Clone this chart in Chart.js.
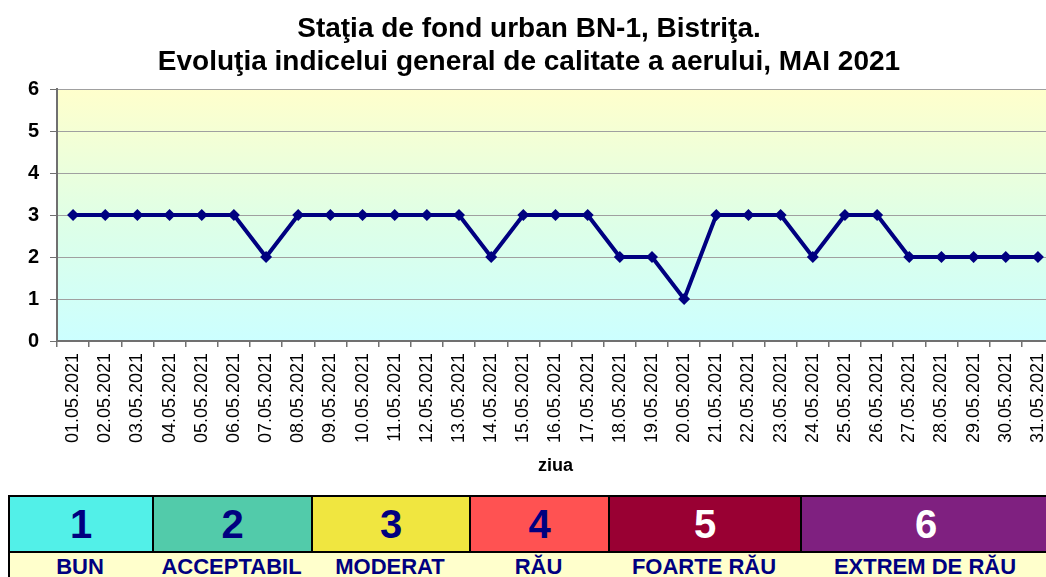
<!DOCTYPE html>
<html>
<head>
<meta charset="utf-8">
<script src="https://cdn.jsdelivr.net/npm/chart.js@4/dist/chart.umd.min.js"></script>
<style>
  html, body { margin: 0; padding: 0; background: #fff; overflow: hidden; width: 1046px; height: 577px; }
  #aqChart { position: absolute; left: 0; top: 0; }
  #legend { position: absolute; left: 0; top: 0; width: 1046px; height: 577px; pointer-events: none; }
  .cell { position: absolute; box-sizing: border-box; font-family: "Liberation Sans", Arial, sans-serif; font-weight: bold; text-align: center; }
</style>
</head>
<body>
<canvas id="aqChart" width="1060" height="480"></canvas>
<div id="legend"></div>
<script>
// ——— Data ———
var days = ["01.05.2021", "02.05.2021", "03.05.2021", "04.05.2021", "05.05.2021", "06.05.2021", "07.05.2021",
  "08.05.2021", "09.05.2021", "10.05.2021", "11.05.2021", "12.05.2021", "13.05.2021", "14.05.2021",
  "15.05.2021", "16.05.2021", "17.05.2021", "18.05.2021", "19.05.2021", "20.05.2021", "21.05.2021",
  "22.05.2021", "23.05.2021", "24.05.2021", "25.05.2021", "26.05.2021", "27.05.2021", "28.05.2021",
  "29.05.2021", "30.05.2021", "31.05.2021"];
var indexValues = [3, 3, 3, 3, 3, 3, 2, 3, 3, 3, 3, 3, 3, 2, 3, 3, 3, 2, 2, 1, 3, 3, 3, 2, 3, 3, 2, 2, 2, 2, 2];
var titleLines = ["Staţia de fond urban BN-1, Bistriţa.", "Evoluţia indicelui general de calitate a aerului, MAI 2021"];

// legend scale (index classes)
var classNumbers = ["1", "2", "3", "4", "5", "6"];
var classNames = ["BUN", "ACCEPTABIL", "MODERAT", "RĂU", "FOARTE RĂU", "EXTREM DE RĂU"];
var classColors = ["#52F0E8", "#52CBAA", "#F0E640", "#FF5252", "#990033", "#7F2080"];
var classTextColors = ["#000080", "#000080", "#000080", "#000080", "#ffffff", "#ffffff"];
var classEdges = [8, 152, 311, 469, 608, 800, 1050];

var FONT = "'Liberation Sans', Arial, sans-serif";

// ——— Plot area gradient ———
var plotBg = {
  id: "plotBg",
  beforeDraw: function (chart) {
    var a = chart.chartArea, ctx = chart.ctx;
    var g = ctx.createLinearGradient(0, a.top, 0, a.bottom);
    g.addColorStop(0, "#FFFFCC");
    g.addColorStop(0.55, "#DDFFE8");
    g.addColorStop(1, "#CCFFFF");
    ctx.save();
    ctx.fillStyle = g;
    ctx.fillRect(a.left, a.top, a.right - a.left, a.bottom - a.top);
    ctx.restore();
  }
};

new Chart(document.getElementById("aqChart"), {
  type: "line",
  data: {
    labels: days,
    datasets: [{
      data: indexValues,
      borderColor: "#000080",
      backgroundColor: "#000080",
      borderWidth: 4,
      pointStyle: "rectRot",
      pointRadius: 6,
      pointBorderWidth: 0,
      tension: 0
    }]
  },
  options: {
    responsive: false,
    animation: false,
    layout: { padding: { left: 0, right: 2, top: 0, bottom: 0 } },
    plugins: {
      legend: { display: false },
      tooltip: { enabled: false },
      title: {
        display: true,
        text: titleLines,
        color: "#000",
        font: { family: FONT, size: 28, weight: "bold", lineHeight: 1.18 },
        padding: { top: 13, bottom: 10 }
      }
    },
    scales: {
      y: {
        min: 0,
        max: 6,
        afterFit: function (s) { s.width = 57; },
        ticks: { stepSize: 1, color: "#000", padding: 11, font: { family: FONT, size: 20, weight: "bold" } },
        grid: { color: "#a0a0a0", lineWidth: 1, tickLength: 7, tickColor: "#707070" },
        border: { color: "#707070", width: 2 }
      },
      x: {
        offset: true,
        afterFit: function (s) { s.height = 139; s.paddingRight = 0; },
        ticks: {
          color: "#000",
          minRotation: 90,
          maxRotation: 90,
          autoSkip: false,
          padding: 6,
          font: { family: FONT, size: 18 }
        },
        grid: { offset: true, drawOnChartArea: false, tickLength: 6, tickColor: "#707070", lineWidth: 1.5 },
        border: { color: "#707070", width: 2 },
        title: {
          display: true,
          text: "ziua",
          color: "#000",
          font: { family: FONT, size: 18, weight: "bold" },
          padding: { top: 0, bottom: 3 }
        }
      }
    }
  },
  plugins: [plotBg]
});

// ——— Index classes table ———
var legend = document.getElementById("legend");
function addCell(left, top, w, h, css, text) {
  var d = document.createElement("div");
  d.className = "cell";
  d.style.left = left + "px";
  d.style.top = top + "px";
  d.style.width = w + "px";
  d.style.height = h + "px";
  for (var k in css) d.style[k] = css[k];
  d.textContent = text;
  legend.appendChild(d);
}
// label row background
addCell(classEdges[0], 551, classEdges[6] - classEdges[0], 40, {
  background: "#FFFFCC", borderLeft: "2px solid #000", borderTop: "2px solid #000"
}, "");
for (var i = 0; i < classNumbers.length; i++) {
  var x0 = classEdges[i], x1 = classEdges[i + 1];
  addCell(x0, 495, x1 - x0 + 2, 58, {
    background: classColors[i], border: "2px solid #000", color: classTextColors[i],
    fontSize: "40px", lineHeight: "54px"
  }, classNumbers[i]);
  addCell(x0, 553, x1 - x0, 30, {
    color: "#000080", fontSize: "22px", lineHeight: "28px"
  }, classNames[i]);
}
</script>
</body>
</html>
